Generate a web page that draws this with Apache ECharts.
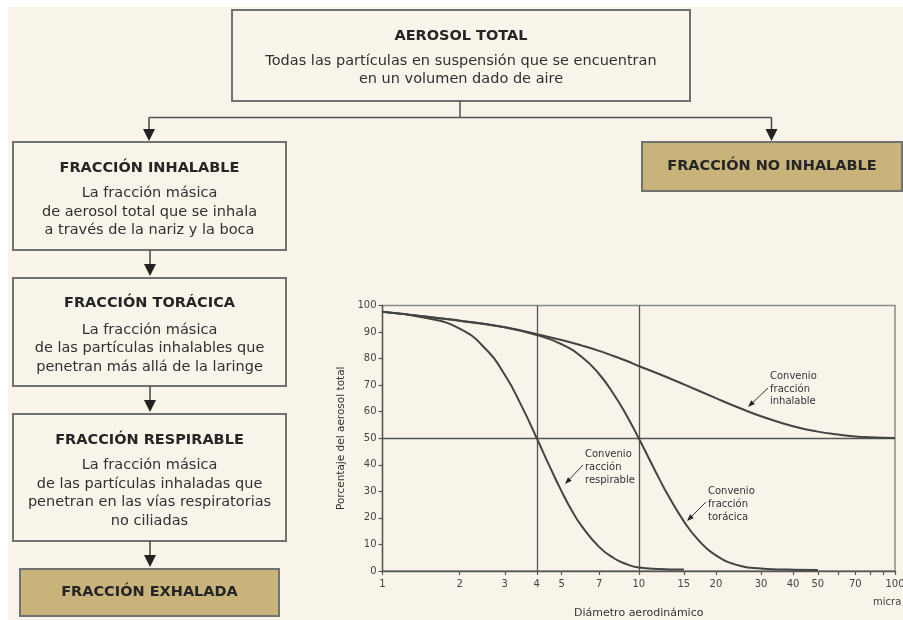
<!DOCTYPE html>
<html>
<head>
<meta charset="utf-8">
<script src="https://cdn.jsdelivr.net/npm/echarts@6/dist/echarts.min.js"></script>
<style>
  html, body { margin: 0; padding: 0; background: #ffffff; }
  #chart { width: 903px; height: 620px; }
</style>
</head>
<body>
<div id="chart"></div>
<script>
// ---- Data ----
const xTickLabels = [1, 2, 3, 4, 5, 7, 10, 15, 20, 30, 40, 50, 70, 100];
const xTickMarks = [1, 2, 3, 4, 5, 7, 10, 15, 20, 30, 40, 50, 60, 70, 80, 90, 100];

const inhalableD = [1, 1.5, 2, 2.5, 3, 3.5, 4, 5, 6, 7, 8, 9, 10, 12, 15, 20, 25, 30, 40, 50, 60, 70, 80, 100];
const inhalableV = [97.6, 95.8, 94.3, 93.0, 91.8, 90.5, 89.2, 87.0, 84.9, 82.9, 80.9, 79.1, 77.2, 74.2, 70.3, 65.1, 61.2, 58.3, 54.5, 52.5, 51.4, 50.7, 50.4, 50.1];

const thoracicD = [1, 2, 3, 4, 5, 6, 7, 8, 9, 10, 11, 12, 13, 15, 17, 20, 25, 30, 35, 40, 50];
const thoracicV = [97.6, 94.3, 91.8, 88.9, 85.4, 80.6, 74.2, 66.5, 58.3, 50.0, 42.1, 34.9, 28.6, 18.7, 11.9, 5.9, 1.9, 0.9, 0.6, 0.5, 0.4];

const respirableD = [1, 1.5, 2, 2.5, 3, 3.5, 4, 4.5, 5, 5.5, 6, 7, 8, 9, 10, 12, 15];
const respirableV = [97.6, 95.2, 91.3, 84.1, 73.9, 61.9, 50.0, 39.2, 30.0, 22.5, 16.8, 9.1, 4.8, 2.5, 1.3, 0.8, 0.6];

const refX = [4, 10];
const refY = [50];

// ---- helpers ----
const pairs = (xs, ys) => xs.map((x, i) => [x, ys[i]]);
const curveColor = '#444444';
const boxStroke = '#727272';
const tan = '#c8b37b';
const cream = '#f8f4e9';
const titleColor = '#252525';
const bodyColor = '#303030';
const FONT = 'DejaVu Sans';

function box(x, y, w, h, fill) {
  return { type: 'rect', shape: { x: x, y: y, width: w, height: h },
           style: { fill: fill, stroke: boxStroke, lineWidth: 2 }, silent: true };
}
function txt(x, y, s, bold, size, color, align) {
  return { type: 'text', x: x, y: y, silent: true,
           style: { text: s, fill: color || (bold ? titleColor : bodyColor),
                    font: (bold ? 'bold ' : '') + (size || 14.5) + 'px "' + FONT + '"',
                    textAlign: align || 'center', textVerticalAlign: 'middle' } };
}
function line(x1, y1, x2, y2, w, c) {
  return { type: 'line', shape: { x1: x1, y1: y1, x2: x2, y2: y2 },
           style: { stroke: c || '#555', lineWidth: w || 1.5 }, silent: true };
}
function downArrow(x, y1, y2) {
  return [
    line(x, y1, x, y2 - 11, 1.5, '#444'),
    { type: 'polygon', shape: { points: [[x - 6, y2 - 12], [x + 6, y2 - 12], [x, y2]] },
      style: { fill: '#222' }, silent: true }
  ];
}
function pointer(x1, y1, x2, y2) {
  const dx = x2 - x1, dy = y2 - y1, L = Math.sqrt(dx * dx + dy * dy);
  const ux = dx / L, uy = dy / L, px = -uy, py = ux;
  const hl = 7, hw = 2.6;
  const bx = x2 - ux * hl, by = y2 - uy * hl;
  return [
    line(x1, y1, bx, by, 1, '#333'),
    { type: 'polygon', shape: { points: [[x2, y2], [bx + px * hw, by + py * hw], [bx - px * hw, by - py * hw]] },
      style: { fill: '#222' }, silent: true }
  ];
}

const graphics = [
  { type: 'rect', shape: { x: 8, y: 7, width: 895, height: 613 }, style: { fill: cream }, silent: true, z: -10 },
  box(232, 10, 458, 91, cream),
  txt(461, 36, 'AEROSOL TOTAL', true),
  txt(461, 61, 'Todas las partículas en suspensión que se encuentran'),
  txt(461, 79.5, 'en un volumen dado de aire'),
  line(460, 101, 460, 117.5, 1.5, '#555'),
  line(149, 117.5, 771.5, 117.5, 1.5, '#555'),
  ...downArrow(149, 117.5, 141),
  ...downArrow(771.5, 117.5, 141),
  box(13, 142, 273, 108, cream),
  txt(149.5, 168, 'FRACCIÓN INHALABLE', true),
  txt(149.5, 193.5, 'La fracción másica'),
  txt(149.5, 212, 'de aerosol total que se inhala'),
  txt(149.5, 230.5, 'a través de la nariz y la boca'),
  box(642, 142, 260, 49, tan),
  txt(772, 166.5, 'FRACCIÓN NO INHALABLE', true),
  ...downArrow(150, 250, 276),
  box(13, 278, 273, 108, cream),
  txt(149.5, 303.5, 'FRACCIÓN TORÁCICA', true),
  txt(149.5, 330, 'La fracción másica'),
  txt(149.5, 348.5, 'de las partículas inhalables que'),
  txt(149.5, 367, 'penetran más allá de la laringe'),
  ...downArrow(150, 386, 412),
  box(13, 414, 273, 127, cream),
  txt(149.5, 440, 'FRACCIÓN RESPIRABLE', true),
  txt(149.5, 465, 'La fracción másica'),
  txt(149.5, 484, 'de las partículas inhaladas que'),
  txt(149.5, 502.5, 'penetran en las vías respiratorias'),
  txt(149.5, 521, 'no ciliadas'),
  ...downArrow(150, 541, 567),
  box(20, 569, 259, 47, tan),
  txt(149.5, 592.5, 'FRACCIÓN EXHALADA', true),
  txt(770, 376, 'Convenio', false, 10, '#333', 'left'),
  txt(770, 389, 'fracción', false, 10, '#333', 'left'),
  txt(770, 401.5, 'inhalable', false, 10, '#333', 'left'),
  ...pointer(768, 388, 748, 407),
  txt(585, 454, 'Convenio', false, 10, '#333', 'left'),
  txt(585, 467, 'racción', false, 10, '#333', 'left'),
  txt(585, 480, 'respirable', false, 10, '#333', 'left'),
  ...pointer(583, 465, 565, 484),
  txt(708, 491, 'Convenio', false, 10, '#333', 'left'),
  txt(708, 504, 'fracción', false, 10, '#333', 'left'),
  txt(708, 517, 'torácica', false, 10, '#333', 'left'),
  ...pointer(706, 502, 687, 521),
  txt(873, 602, 'micra', false, 10, '#444', 'left')
];

const chart = echarts.init(document.getElementById('chart'));
const seriesBase = {
  type: 'line', showSymbol: false, smooth: 0.5,
  lineStyle: { color: curveColor, width: 2 }, itemStyle: { color: curveColor }, z: 5
};
chart.setOption({
  animation: false,
  backgroundColor: 'transparent',
  graphic: graphics,
  grid: { left: 382.5, right: 8, top: 305.5, bottom: 49, show: true, outerBoundsMode: 'none',
          containLabel: false, borderColor: '#8a8a8a', borderWidth: 1.5, backgroundColor: 'transparent' },
  xAxis: {
    type: 'log', logBase: 10, min: 1, max: 100,
    name: 'Diámetro aerodinámico', nameLocation: 'middle', nameGap: 37,
    nameTextStyle: { fontFamily: FONT, fontSize: 11, color: '#333' },
    axisLine: { show: true, lineStyle: { color: '#555', width: 1.3 } },
    axisTick: { show: true, inside: false, length: 4, customValues: xTickMarks, lineStyle: { color: '#555', width: 1.2 } },
    axisLabel: { customValues: xTickLabels, fontFamily: FONT, fontSize: 10, color: '#444', margin: 8 },
    splitLine: { show: false }, minorTick: { show: false }
  },
  yAxis: {
    type: 'value', min: 0, max: 100, interval: 10,
    name: 'Porcentaje del aerosol total', nameLocation: 'middle', nameGap: 33, nameRotate: 90,
    nameTextStyle: { fontFamily: FONT, fontSize: 10.5, color: '#333' },
    axisLine: { show: true, lineStyle: { color: '#555', width: 1.3 } },
    axisTick: { show: true, inside: false, length: 4, lineStyle: { color: '#555', width: 1.2 } },
    axisLabel: { fontFamily: FONT, fontSize: 10, color: '#444', margin: 6 },
    splitLine: { show: false }
  },
  series: [
    Object.assign({}, seriesBase, {
      name: 'Convenio fracción inhalable', data: pairs(inhalableD, inhalableV),
      markLine: {
        silent: true, symbol: 'none', label: { show: false },
        lineStyle: { color: '#555', width: 1.3, type: 'solid' },
        data: refX.map(v => ({ xAxis: v })).concat(refY.map(v => ({ yAxis: v })))
      }
    }),
    Object.assign({}, seriesBase, { name: 'Convenio fracción torácica', data: pairs(thoracicD, thoracicV) }),
    Object.assign({}, seriesBase, { name: 'Convenio fracción respirable', data: pairs(respirableD, respirableV) })
  ]
});
</script>
</body>
</html>
